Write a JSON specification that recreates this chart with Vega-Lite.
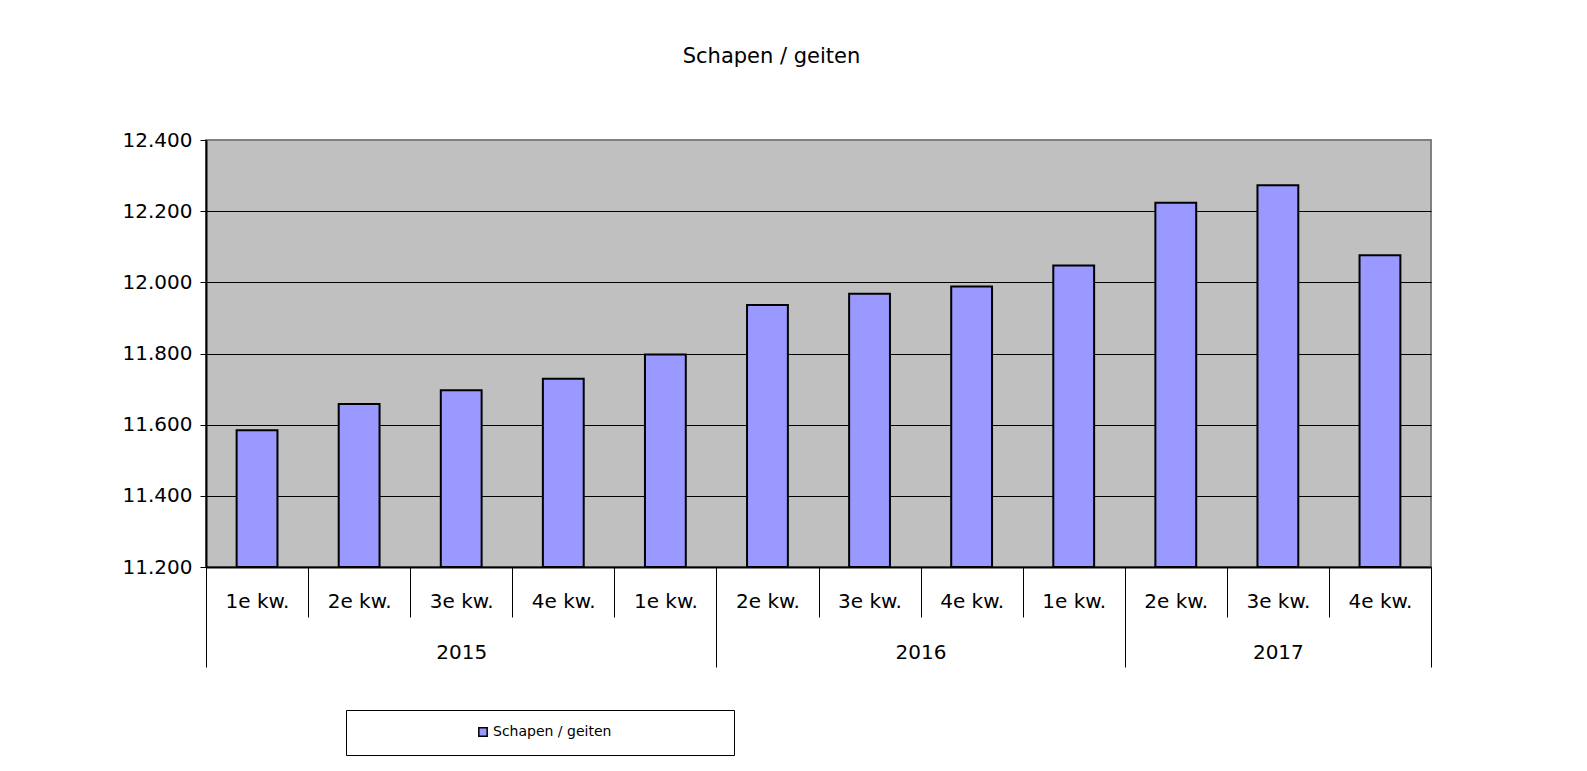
{
  "$schema": "https://vega.github.io/schema/vega-lite/v6.json",
  "autosize": {"type": "none"},
  "width": 1225,
  "height": 427,
  "padding": {"left": 206, "top": 140, "right": 156, "bottom": 204},
  "background": "white",
  "config": {
    "font": "DejaVu Sans",
    "view": {"fill": "#C0C0C0", "stroke": "#808080", "strokeWidth": 2}
  },
  "title": {
    "text": "Schapen / geiten",
    "fontSize": 21,
    "fontWeight": "normal",
    "color": "black",
    "font": "DejaVu Sans",
    "baseline": "bottom",
    "offset": 42,
    "dx": -47
  },
  "data": {
    "values": [
      {"periode": "2015 1e kw.", "aantal": 11584},
      {"periode": "2015 2e kw.", "aantal": 11658},
      {"periode": "2015 3e kw.", "aantal": 11697},
      {"periode": "2015 4e kw.", "aantal": 11729},
      {"periode": "2016 1e kw.", "aantal": 11797},
      {"periode": "2016 2e kw.", "aantal": 11936},
      {"periode": "2016 3e kw.", "aantal": 11968},
      {"periode": "2016 4e kw.", "aantal": 11988},
      {"periode": "2017 1e kw.", "aantal": 12047},
      {"periode": "2017 2e kw.", "aantal": 12224},
      {"periode": "2017 3e kw.", "aantal": 12273},
      {"periode": "2017 4e kw.", "aantal": 12076}
    ]
  },
  "resolve": {"scale": {"x": "shared"}, "axis": {"x": "independent"}},
  "layer": [
    {
      "mark": {"type": "bar", "width": {"band": 0.4}, "stroke": "black", "strokeWidth": 2},
      "encoding": {
        "x": {
          "field": "periode",
          "type": "nominal",
          "sort": null,
          "scale": {"paddingInner": 0, "paddingOuter": 0},
          "axis": {
            "orient": "bottom",
            "title": null,
            "labelAngle": 0,
            "labelExpr": "datum.value ? substring(datum.value, 5) : ''",
            "labelFontSize": 20,
            "labelColor": "black",
            "labelPadding": -26,
            "tickBand": "extent",
            "tickSize": 50,
            "tickColor": "black",
            "tickWidth": 1,
            "domainColor": "black",
            "domainWidth": 2
          }
        },
        "y": {
          "field": "aantal",
          "type": "quantitative",
          "scale": {"domain": [11200, 12400], "zero": false, "nice": false},
          "axis": {
            "title": null,
            "values": [11200, 11400, 11600, 11800, 12000, 12200, 12400],
            "labelExpr": "replace(format(datum.value, ','), ',', '.')",
            "labelFontSize": 20,
            "labelColor": "black",
            "labelPadding": 8,
            "tickSize": 6,
            "tickColor": "black",
            "domainColor": "black",
            "domainWidth": 2,
            "grid": true,
            "gridColor": "black",
            "gridWidth": 1,
            "gridOpacity": {"condition": {"test": "datum.value >= 12400 || datum.value <= 11200", "value": 0}, "value": 1}
          }
        },
        "y2": {"datum": 11200},
        "color": {
          "datum": "Schapen / geiten",
          "type": "nominal",
          "scale": {"range": ["#9999FF"]},
          "legend": {
            "orient": "none",
            "legendX": 140,
            "legendY": 570,
            "title": "\u00a0",
            "titleOrient": "right",
            "titlePadding": 108,
            "titleFontSize": 14,
            "padding": 15,
            "symbolOffset": 115,
            "symbolType": "square",
            "symbolSize": 70,
            "symbolStrokeColor": "black",
            "symbolStrokeWidth": 1.5,
            "symbolFillColor": "#9999FF",
            "labelFontSize": 14,
            "labelColor": "black",
            "labelOffset": 3,
            "strokeColor": "black",
            "fillColor": "white"
          }
        }
      }
    },
    {
      "mark": {"type": "point", "opacity": 0},
      "encoding": {
        "x": {
          "field": "periode",
          "type": "nominal",
          "sort": null,
          "axis": {
            "orient": "bottom",
            "title": null,
            "domain": false,
            "labelAngle": 0,
            "labelExpr": "datum.value == '2015 3e kw.' ? '2015' : datum.value == '2016 3e kw.' ? '2016' : datum.value == '2017 3e kw.' ? '2017' : ''",
            "labelFontSize": 20,
            "labelColor": "black",
            "labelPadding": -25,
            "labelOffset": {"condition": {"test": "datum.value == '2016 3e kw.'", "value": 51}, "value": 0},
            "tickBand": "extent",
            "tickSize": 100,
            "tickColor": "black",
            "tickWidth": 1,
            "tickOpacity": {"condition": {"test": "!datum.value || datum.value == '2016 1e kw.' || datum.value == '2017 1e kw.' || datum.value == '2017 4e kw.'", "value": 1}, "value": 0}
          }
        }
      }
    }
  ]
}
